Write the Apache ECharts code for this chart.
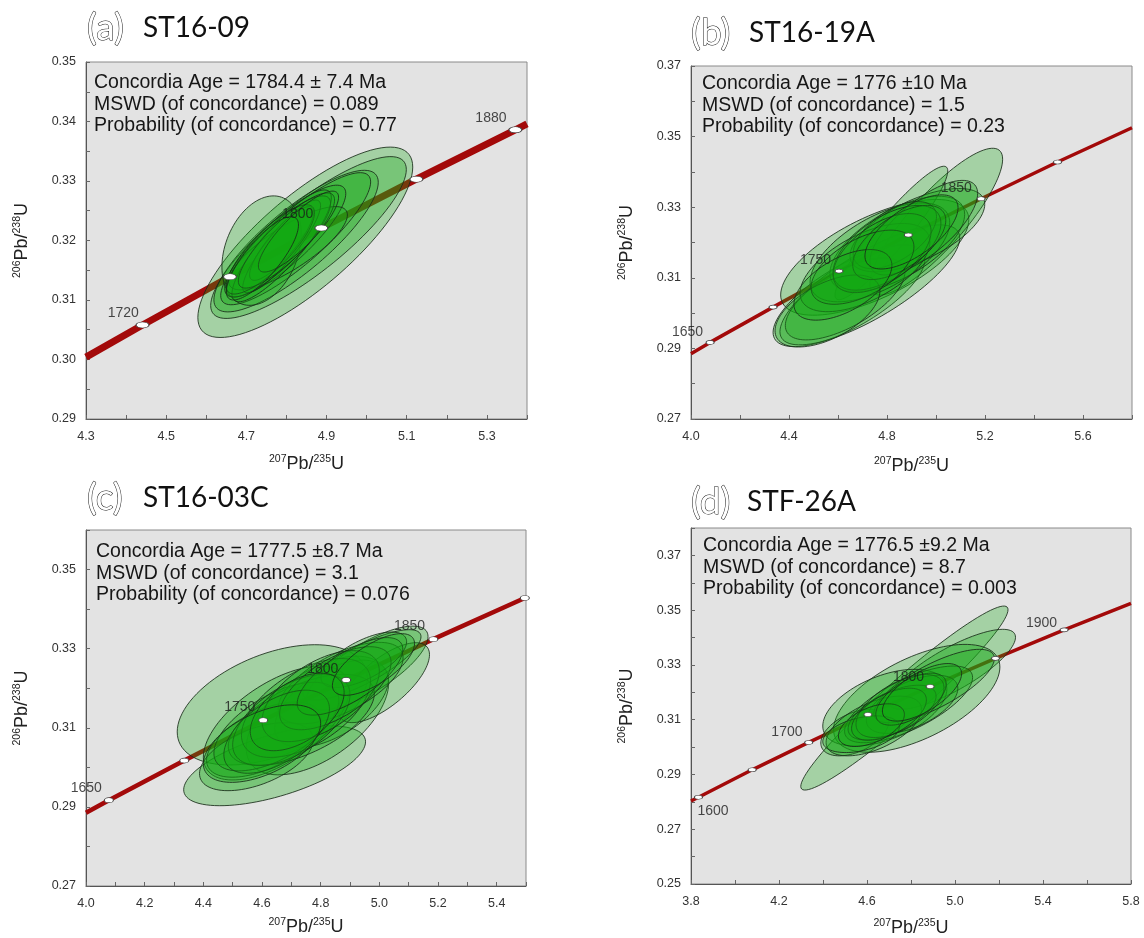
<!DOCTYPE html>
<html><head><meta charset="utf-8">
<script src="https://cdn.jsdelivr.net/npm/echarts@6/dist/echarts.min.js"></script>
<style>html,body{margin:0;padding:0;background:#fff}#chart{width:1144px;height:938px}</style>
</head><body><div id="chart"></div>
<script>
// ---------------- DATA ----------------
const panelLetters = ['(a)', '(b)', '(c)', '(d)'];
const panelTitles = ['ST16-09', 'ST16-19A', 'ST16-03C', 'STF-26A'];

const statsA = ['Concordia Age = 1784.4 ± 7.4 Ma', 'MSWD (of concordance) = 0.089', 'Probability (of concordance) = 0.77'];
const statsB = ['Concordia Age = 1776 ±10 Ma', 'MSWD (of concordance) = 1.5', 'Probability (of concordance) = 0.23'];
const statsC = ['Concordia Age = 1777.5 ±8.7 Ma', 'MSWD (of concordance) = 3.1', 'Probability (of concordance) = 0.076'];
const statsD = ['Concordia Age = 1776.5 ±9.2 Ma', 'MSWD (of concordance) = 8.7', 'Probability (of concordance) = 0.003'];

// axis ranges: [min, max, tick step]
const xRangeA = [4.3, 5.4, 0.1],  yRangeA = [0.29, 0.35, 0.005];
const xRangeB = [4.0, 5.8, 0.2],  yRangeB = [0.27, 0.37, 0.01];
const xRangeC = [4.0, 5.5, 0.1],  yRangeC = [0.27, 0.36, 0.01];
const xRangeD = [3.8, 5.8, 0.2],  yRangeD = [0.25, 0.38, 0.01];

// concordia curve: where it leaves the frame (left, right)
const curveEndsA = [[4.3, 0.3004], [5.4, 0.3396]];
const curveEndsB = [[4.0, 0.2885], [5.8, 0.3525]];
const curveEndsC = [[4.0, 0.2885], [5.5, 0.3429]];
const curveEndsD = [[3.8, 0.2803], [5.8, 0.3525]];

// age markers on concordia [207Pb/235U, 206Pb/238U]
const markersA = [[4.441, 0.3058], [4.659, 0.3139], [4.887, 0.3221], [5.124, 0.3303], [5.371, 0.3386]];
const markersB = [[4.078, 0.2917], [4.335, 0.3017], [4.604, 0.3119], [4.887, 0.3221], [5.184, 0.3324], [5.496, 0.3428]];
const markersC = [[4.078, 0.2917], [4.335, 0.3017], [4.604, 0.3119], [4.887, 0.3221], [5.184, 0.3324], [5.496, 0.3428]];
const markersD = [[3.834, 0.2817], [4.078, 0.2917], [4.335, 0.3017], [4.604, 0.3119], [4.887, 0.3221], [5.184, 0.3324], [5.496, 0.3428]];

// age labels [x, y, text]
const ageLabelsA = [[4.393, 0.3078, '1720'], [4.828, 0.3245, '1800'], [5.310, 0.3405, '1880']];
const ageLabelsB = [[3.986, 0.2946, '1650'], [4.508, 0.3150, '1750'], [5.083, 0.3353, '1850']];
const ageLabelsC = [[4.001, 0.2947, '1650'], [4.524, 0.3151, '1750'], [4.807, 0.3249, '1800'], [5.103, 0.3356, '1850']];
const ageLabelsD = [[3.900, 0.2767, '1600'], [4.236, 0.3055, '1700'], [4.789, 0.3255, '1800'], [5.393, 0.3452, '1900']];

// error ellipses [x, half-width x, y, half-height y, rho]
const ellipsesA = [
  [4.847, 0.268, 0.3197, 0.0160, 0.79],
  [4.855, 0.244, 0.3205, 0.0136, 0.84],
  [4.824, 0.205, 0.3199, 0.0119, 0.83],
  [4.823, 0.187, 0.3203, 0.0111, 0.86],
  [4.738, 0.099, 0.3183, 0.0092, 0.30],
  [4.797, 0.151, 0.3199, 0.0094, 0.85],
  [4.804, 0.148, 0.3187, 0.0070, 0.80],
  [4.788, 0.124, 0.3191, 0.0094, 0.86],
  [4.788, 0.097, 0.3190, 0.0078, 0.88],
  [4.788, 0.080, 0.3195, 0.0062, 0.85],
  [4.780, 0.130, 0.3190, 0.0085, 0.85],
  [4.760, 0.110, 0.3185, 0.0075, 0.82],
  [4.800, 0.120, 0.3200, 0.0080, 0.85],
  [4.830, 0.100, 0.3215, 0.0068, 0.85],
  [4.740, 0.090, 0.3170, 0.0070, 0.80]
];
const ellipsesB = [
  [4.750, 0.384, 0.3158, 0.0164, 0.65],
  [5.001, 0.271, 0.3259, 0.0208, 0.85],
  [4.818, 0.230, 0.3227, 0.0189, 0.93],
  [4.645, 0.310, 0.3049, 0.0144, 0.72],
  [4.730, 0.367, 0.3080, 0.0170, 0.78],
  [4.629, 0.244, 0.3040, 0.0116, 0.65],
  [4.842, 0.275, 0.3196, 0.0135, 0.62],
  [4.771, 0.285, 0.3172, 0.0140, 0.60],
  [4.924, 0.275, 0.3235, 0.0118, 0.62],
  [4.710, 0.265, 0.3129, 0.0125, 0.58],
  [4.950, 0.220, 0.3242, 0.0134, 0.72],
  [4.832, 0.170, 0.3221, 0.0095, 0.55],
  [4.557, 0.214, 0.3006, 0.0102, 0.55],
  [4.800, 0.220, 0.3185, 0.0120, 0.58],
  [4.780, 0.200, 0.3170, 0.0112, 0.55],
  [4.850, 0.190, 0.3200, 0.0105, 0.60],
  [4.700, 0.210, 0.3130, 0.0105, 0.55],
  [4.620, 0.200, 0.3080, 0.0100, 0.55],
  [4.900, 0.190, 0.3230, 0.0105, 0.65]
];
const ellipsesC = [
  [4.635, 0.324, 0.3158, 0.0152, 0.45],
  [4.643, 0.310, 0.3004, 0.0101, 0.60],
  [4.789, 0.243, 0.3131, 0.0150, 0.55],
  [4.837, 0.194, 0.3161, 0.0110, 0.55],
  [4.959, 0.207, 0.3251, 0.0106, 0.75],
  [5.016, 0.155, 0.3214, 0.0101, 0.70],
  [4.941, 0.201, 0.3259, 0.0089, 0.80],
  [4.649, 0.249, 0.3112, 0.0144, 0.60],
  [4.606, 0.195, 0.3070, 0.0095, 0.55],
  [4.581, 0.194, 0.3027, 0.0086, 0.50],
  [4.734, 0.249, 0.3120, 0.0115, 0.58],
  [4.868, 0.213, 0.3213, 0.0103, 0.62],
  [4.649, 0.213, 0.3103, 0.0112, 0.60],
  [4.947, 0.146, 0.3272, 0.0070, 0.65],
  [4.750, 0.220, 0.3150, 0.0125, 0.55],
  [4.700, 0.200, 0.3120, 0.0115, 0.55],
  [4.800, 0.200, 0.3180, 0.0115, 0.55],
  [4.850, 0.190, 0.3200, 0.0105, 0.62],
  [4.650, 0.180, 0.3090, 0.0105, 0.55],
  [4.900, 0.180, 0.3230, 0.0098, 0.70],
  [4.720, 0.160, 0.3140, 0.0098, 0.50],
  [4.600, 0.200, 0.3060, 0.0098, 0.52],
  [4.980, 0.140, 0.3260, 0.0078, 0.68]
];
const ellipsesD = [
  [4.770, 0.471, 0.3179, 0.0336, 0.96],
  [4.986, 0.289, 0.3284, 0.0146, 0.80],
  [4.826, 0.378, 0.3178, 0.0197, 0.58],
  [4.681, 0.282, 0.3144, 0.0140, 0.48],
  [4.544, 0.154, 0.3053, 0.0085, 0.45],
  [4.789, 0.291, 0.3156, 0.0140, 0.70],
  [4.805, 0.208, 0.3156, 0.0106, 0.55],
  [4.631, 0.217, 0.3077, 0.0109, 0.55],
  [4.905, 0.274, 0.3223, 0.0134, 0.75],
  [4.714, 0.200, 0.3126, 0.0100, 0.60],
  [4.573, 0.174, 0.3047, 0.0067, 0.40],
  [4.750, 0.200, 0.3150, 0.0115, 0.58],
  [4.700, 0.170, 0.3120, 0.0095, 0.55],
  [4.800, 0.160, 0.3175, 0.0095, 0.58],
  [4.620, 0.150, 0.3080, 0.0078, 0.50],
  [4.850, 0.180, 0.3200, 0.0105, 0.65]
];

// ---------------- CHART ----------------
const FONT = '"Liberation Sans", Arial, sans-serif';
const panels = [
  {grid: {left: 86, top: 62, width: 441, height: 357}, x: xRangeA, y: yRangeA, xDec: 1, ends: curveEndsA, markers: markersA, labels: ageLabelsA, ell: ellipsesA, stats: statsA,
   lineW: 7, mSize: [13, 6], nameGapX: 35, letterPos: [87, 28], titlePos: [143, 28], statsPos: [94, 83]},
  {grid: {left: 691, top: 66, width: 441, height: 353}, x: xRangeB, y: yRangeB, xDec: 1, ends: curveEndsB, markers: markersB, labels: ageLabelsB, ell: ellipsesB, stats: statsB,
   lineW: 3.5, mSize: [8, 4], nameGapX: 37, letterPos: [691, 33], titlePos: [749, 33], statsPos: [702, 84]},
  {grid: {left: 86, top: 530, width: 440, height: 356}, x: xRangeC, y: yRangeC, xDec: 1, ends: curveEndsC, markers: markersC, labels: ageLabelsC, ell: ellipsesC, stats: statsC,
   lineW: 4.5, mSize: [9, 5], nameGapX: 31, letterPos: [87, 498], titlePos: [143, 498], statsPos: [96, 552]},
  {grid: {left: 691, top: 528, width: 440, height: 357}, x: xRangeD, y: yRangeD, xDec: 1, ends: curveEndsD, markers: markersD, labels: ageLabelsD, ell: ellipsesD, stats: statsD,
   lineW: 3.5, mSize: [8, 4], nameGapX: 34, letterPos: [691, 502], titlePos: [747, 502], statsPos: [703, 546]}
];

const richName = {
  s: {fontSize: 10.5, fontFamily: FONT, color: '#222', verticalAlign: 'top', lineHeight: 12},
  m: {fontSize: 18, fontFamily: FONT, color: '#222', lineHeight: 20}
};

function makeAxis(i, r, dec, isX, nameGap) {
  const [min, max, step] = r;
  return {
    type: 'value', gridIndex: i, min: min, max: max, interval: step,
    position: isX ? 'bottom' : 'left',
    axisLine: {show: true, onZero: false, lineStyle: {color: '#555', width: 1}},
    axisTick: {show: true, inside: true, length: 4, lineStyle: {color: '#666'}},
    splitLine: {show: false},
    axisLabel: {
      show: true, margin: isX ? 11 : 10, fontSize: 12.5, fontFamily: FONT, color: '#333',
      showMinLabel: true, showMaxLabel: true, hideOverlap: false,
      formatter: function (v) {
        const k = Math.round((v - min) / step);
        return k % 2 === 0 ? v.toFixed(dec) : '';
      }
    },
    name: isX ? '{s|207}{m|Pb/}{s|235}{m|U}' : '{s|206}{m|Pb/}{s|238}{m|U}',
    nameLocation: 'middle', nameGap: nameGap, nameRotate: isX ? 0 : 90,
    nameTextStyle: {rich: richName}
  };
}

const grids = [], xAxes = [], yAxes = [], series = [], graphics = [];
panels.forEach(function (p, i) {
  grids.push(Object.assign({show: true, backgroundColor: '#e3e3e3', borderColor: '#8a8a8a', borderWidth: 1, containLabel: false}, p.grid));
  xAxes.push(makeAxis(i, p.x, p.xDec, true, p.nameGapX));
  yAxes.push(makeAxis(i, p.y, 2, false, 54));

  // concordia curve
  series.push({
    type: 'line', xAxisIndex: i, yAxisIndex: i, z: 2, silent: true,
    data: [p.ends[0]].concat(p.markers, [p.ends[1]]),
    showSymbol: false, symbol: 'none', clip: true,
    lineStyle: {color: '#a30a0a', width: p.lineW}
  });
  // error ellipses
  series.push({
    type: 'custom', xAxisIndex: i, yAxisIndex: i, z: 3, silent: true,
    data: p.ell, encode: {x: 0, y: 2},
    renderItem: function (params, api) {
      const cx = api.value(0), sx = api.value(1), cy = api.value(2), sy = api.value(3), rho = api.value(4);
      const q = Math.sqrt(1 - rho * rho);
      const pts = [];
      for (let k = 0; k < 96; k++) {
        const t = 2 * Math.PI * k / 96;
        pts.push(api.coord([cx + sx * Math.cos(t), cy + sy * (rho * Math.cos(t) + q * Math.sin(t))]));
      }
      return {type: 'polygon', shape: {points: pts},
        style: {fill: 'rgba(20,168,20,0.30)', stroke: 'rgba(25,45,25,0.85)', lineWidth: 1}};
    }
  });
  // age markers
  series.push({
    type: 'scatter', xAxisIndex: i, yAxisIndex: i, z: 4, silent: true, clip: false,
    data: p.markers, symbol: 'circle', symbolSize: p.mSize,
    itemStyle: {color: '#ffffff', borderColor: '#444', borderWidth: 0.8, opacity: 1}
  });
  // age labels
  series.push({
    type: 'scatter', xAxisIndex: i, yAxisIndex: i, z: 5, silent: true, clip: false,
    data: p.labels, symbolSize: 0, encode: {x: 0, y: 1},
    label: {show: true, position: 'inside', formatter: function (d) { return d.value[2]; },
      fontSize: 14, fontFamily: FONT, color: '#1a1a1a'}
  });

  // panel title
  graphics.push({type: 'text', x: p.letterPos[0], y: p.letterPos[1], z: 10,
    style: {text: panelLetters[i], font: '37px Lato', fill: '#ffffff', stroke: '#111', lineWidth: 1, align: 'left', verticalAlign: 'middle'}});
  graphics.push({type: 'text', x: p.titlePos[0], y: p.titlePos[1], z: 10,
    style: {text: panelTitles[i], font: '28px Lato', fill: '#111', align: 'left', verticalAlign: 'middle'}});
  // statistics block
  graphics.push({type: 'text', x: p.statsPos[0], y: p.statsPos[1] - 10.7, z: 10,
    style: {text: p.stats.join('\n'), font: '19.5px ' + FONT, fill: '#161616', lineHeight: 21.4, align: 'left', verticalAlign: 'top'}});
});

const chart = echarts.init(document.getElementById('chart'), null, {renderer: 'canvas'});
chart.setOption({
  backgroundColor: '#ffffff',
  animation: false,
  grid: grids, xAxis: xAxes, yAxis: yAxes, series: series, graphic: graphics
});
</script></body></html>
